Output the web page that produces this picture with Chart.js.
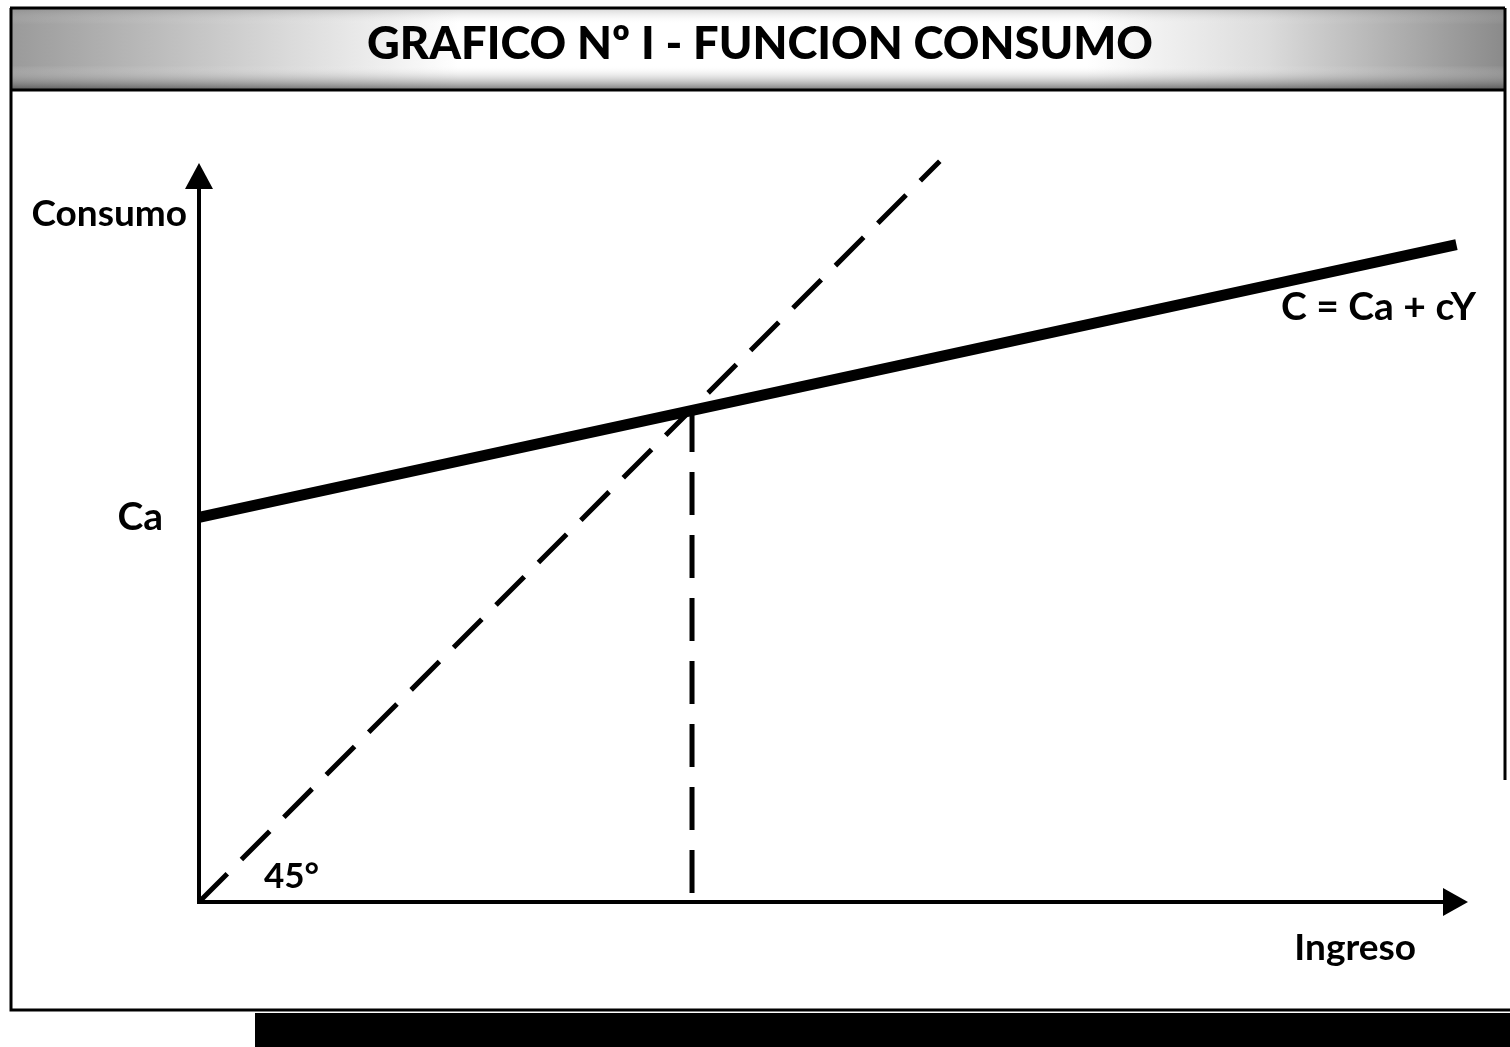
<!DOCTYPE html>
<html>
<head>
<meta charset="utf-8">
<script src="https://cdn.jsdelivr.net/npm/chart.js@4/dist/chart.umd.min.js"></script>
<style>
  html, body { margin: 0; padding: 0; background: #ffffff; }
  #wrap { width: 1510px; height: 1047px; position: relative; }
</style>
</head>
<body>
<div id="wrap"><canvas id="c" width="1510" height="1047"></canvas></div>
<script>
// ---- Data (units: income / consumption) ----
const titleText = 'GRAFICO Nº I - FUNCION CONSUMO';
const yTitle = 'Consumo';
const xTitle = 'Ingreso';
const caLabel = 'Ca';
const ca = 30.9;                         // autonomous consumption
const consumoX = [0, 101];               // C = Ca + cY line
const consumoY = [30.9, 52.8];
const linea45X = [0, 59.5];              // 45° line
const linea45Y = [0, 59.5];
const equilibrioX = [39.6, 39.6];        // equilibrium income (vertical dashed)
const equilibrioY = [39.6, 0];
const eqLabel = 'C = Ca + cY';
const angleLabel = '45°';
const xRange = [0, 100];
const yRange = [0, 57.35];

const pts = (xs, ys) => xs.map((x, i) => ({ x: x, y: ys[i] }));

const FONT = 'Lato, "Open Sans", sans-serif';

const decor = {
  id: 'decor',
  beforeDraw(chart) {
    const ctx = chart.ctx;
    ctx.save();
    ctx.fillStyle = '#ffffff';
    ctx.fillRect(0, 0, chart.width, chart.height);

    // title band
    const bx = 10, by = 8, bw = 1495, bh = 82;
    let g = ctx.createLinearGradient(bx, 0, bx + bw, 0);
    g.addColorStop(0, '#9a9a9a');
    g.addColorStop(0.18, '#d8d8d8');
    g.addColorStop(0.3, '#ffffff');
    g.addColorStop(0.72, '#ffffff');
    g.addColorStop(0.84, '#dcdcdc');
    g.addColorStop(1, '#8a8a8a');
    ctx.fillStyle = g;
    ctx.fillRect(bx, by, bw, bh);
    let g2 = ctx.createLinearGradient(0, by, 0, by + bh);
    g2.addColorStop(0, 'rgba(110,110,110,0.3)');
    g2.addColorStop(0.2, 'rgba(255,255,255,0)');
    g2.addColorStop(0.7, 'rgba(255,255,255,0)');
    g2.addColorStop(1, 'rgba(60,60,60,0.7)');
    ctx.fillStyle = g2;
    ctx.fillRect(bx, by, bw, bh);

    ctx.strokeStyle = '#000';
    ctx.lineWidth = 3;
    ctx.beginPath();
    ctx.moveTo(bx, by); ctx.lineTo(bx + bw, by);
    ctx.moveTo(bx, by + bh); ctx.lineTo(bx + bw, by + bh);
    ctx.stroke();

    // outer frame
    ctx.lineWidth = 3;
    ctx.beginPath();
    ctx.moveTo(11, by); ctx.lineTo(11, 1010);
    ctx.lineTo(1510, 1010);
    ctx.moveTo(1505, by); ctx.lineTo(1505, 780);
    ctx.stroke();

    // title
    ctx.fillStyle = '#000';
    ctx.font = '900 46px ' + FONT;
    ctx.textAlign = 'center';
    ctx.textBaseline = 'alphabetic';
    ctx.fillText(titleText, 760, 59, 786);
    ctx.restore();
  },
  afterDraw(chart) {
    const ctx = chart.ctx;
    const a = chart.chartArea;
    ctx.save();
    ctx.fillStyle = '#000';
    // arrowheads on the axes
    ctx.beginPath();
    ctx.moveTo(a.left, a.top - 25);
    ctx.lineTo(a.left - 14, a.top + 1);
    ctx.lineTo(a.left + 14, a.top + 1);
    ctx.closePath();
    ctx.fill();
    ctx.beginPath();
    ctx.moveTo(a.right + 24, a.bottom);
    ctx.lineTo(a.right - 1, a.bottom - 14);
    ctx.lineTo(a.right - 1, a.bottom + 14);
    ctx.closePath();
    ctx.fill();

    // texts
    ctx.textBaseline = 'alphabetic';
    ctx.textAlign = 'right';
    ctx.font = 'bold 37px ' + FONT;
    ctx.fillText(yTitle, a.left - 12, a.top + 38);
    ctx.fillText(xTitle, 1416, 960);
    ctx.font = 'bold 39px ' + FONT;
    ctx.fillText(eqLabel, 1476, 320);
    ctx.textAlign = 'left';
    ctx.font = 'bold 35px ' + FONT;
    ctx.fillText(angleLabel, 264, 888);

    // bottom black strip
    ctx.fillStyle = '#000';
    ctx.fillRect(255, 1013, 1255, 34);
    ctx.restore();
  }
};

new Chart(document.getElementById('c'), {
  type: 'line',
  data: {
    datasets: [
      {
        label: 'C = Ca + cY',
        data: pts(consumoX, consumoY),
        borderColor: '#000',
        borderWidth: 11,
        pointRadius: 0,
        clip: false
      },
      {
        label: '45°',
        data: pts(linea45X, linea45Y),
        borderColor: '#000',
        borderWidth: 5,
        borderDash: [40, 20],
        pointRadius: 0,
        clip: false
      },
      {
        label: 'Equilibrio',
        data: pts(equilibrioX, equilibrioY),
        borderColor: '#000',
        borderWidth: 5,
        borderDash: [43, 20],
        pointRadius: 0,
        clip: false
      }
    ]
  },
  options: {
    responsive: false,
    animation: false,
    layout: { padding: { left: 0, right: 66, top: 188, bottom: 145 } },
    plugins: { legend: { display: false }, tooltip: { enabled: false }, title: { display: false } },
    scales: {
      x: {
        type: 'linear',
        min: xRange[0], max: xRange[1],
        grid: { display: false, drawTicks: false },
        border: { display: true, color: '#000', width: 4 },
        ticks: { display: false },
        afterFit: s => { s.height = 0; }
      },
      y: {
        type: 'linear',
        min: yRange[0], max: yRange[1],
        grid: { display: false, drawTicks: false },
        border: { display: true, color: '#000', width: 4 },
        afterBuildTicks: s => { s.ticks = [{ value: ca }]; },
        ticks: {
          callback: () => caLabel,
          color: '#000',
          padding: 36,
          font: { family: FONT, size: 39, weight: 'bold' }
        },
        afterFit: s => { s.width = 199; }
      }
    }
  },
  plugins: [decor]
});
</script>
</body>
</html>
